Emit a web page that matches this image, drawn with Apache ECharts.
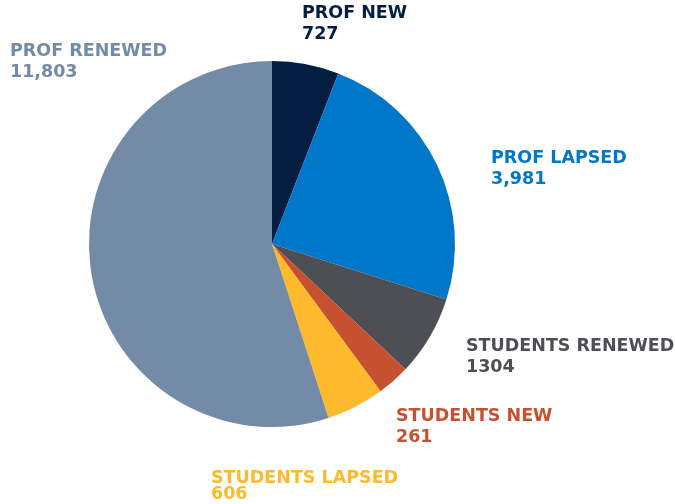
<!DOCTYPE html>
<html>
<head>
<meta charset="utf-8">
<script src="https://cdn.jsdelivr.net/npm/echarts@6/dist/echarts.min.js"></script>
<style>
  html, body { margin: 0; padding: 0; background: #fff; }
  #chart { width: 675px; height: 504px; }
</style>
</head>
<body>
<div id="chart"></div>
<script>
// categories, clockwise from 12 o'clock
var names = ['PROF NEW', 'PROF LAPSED', 'STUDENTS RENEWED', 'STUDENTS NEW', 'STUDENTS LAPSED', 'PROF RENEWED'];
// numbers printed in the labels
var counts = ['727', '3,981', '1304', '261', '606', '11,803'];
// slice sizes as drawn in the picture (percent of the circle)
var shares = [5.9, 24.0, 7.1, 2.9, 5.1, 55.0];
var colors = ['#041e42', '#0077c8', '#4d4f54', '#c6502f', '#fdba2c', '#738ba6'];

// where each label block sits (left x, middle y, line height)
var labelPos = [
    [302, 24, 21],
    [491, 169, 21],
    [466, 357, 21],
    [396, 427, 21],
    [211, 486, 16],
    [10, 62, 21]
];

var chart = echarts.init(document.getElementById('chart'));

var option = {
    animation: false,
    backgroundColor: '#ffffff',
    series: [
        {
            type: 'pie',
            center: [272, 244],
            radius: [0, 183],
            startAngle: 90,
            clockwise: true,
            silent: true,
            itemStyle: { borderWidth: 0 },
            labelLine: { show: false },
            label: {
                show: true,
                position: 'outside',
                overflow: 'none',
                fontFamily: 'DejaVu Sans',
                fontWeight: 'bold',
                fontSize: 17.5,
                formatter: function (p) {
                    return names[p.dataIndex] + '\n' + counts[p.dataIndex];
                }
            },
            labelLayout: function (p) {
                var pos = labelPos[p.dataIndex];
                return { x: pos[0], y: pos[1], align: 'left', verticalAlign: 'middle' };
            },
            data: names.map(function (n, i) {
                return {
                    name: n,
                    value: shares[i],
                    itemStyle: { color: colors[i] },
                    label: { color: colors[i], lineHeight: labelPos[i][2] }
                };
            })
        }
    ]
};

chart.setOption(option);
</script>
</body>
</html>
